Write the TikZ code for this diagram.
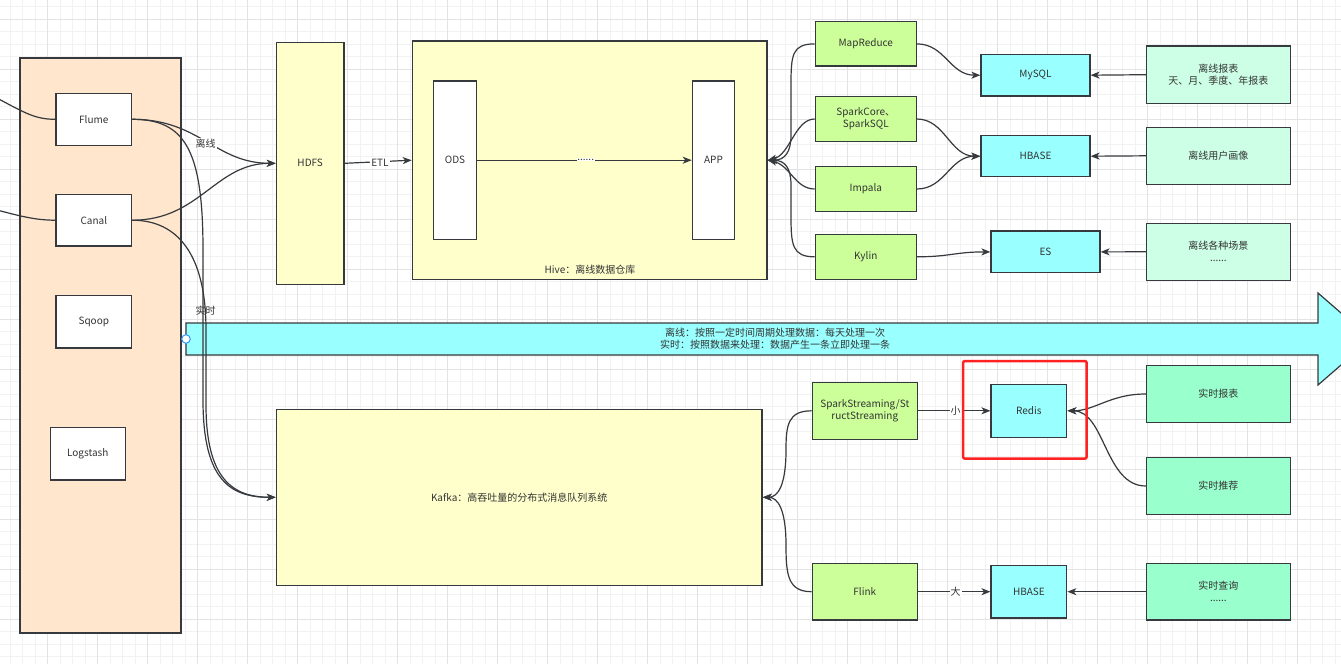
\documentclass[tikz,border=0pt]{standalone}
\usepackage{fontspec}
\setmainfont{Noto Sans CJK SC}
\usetikzlibrary{arrows.meta}
\definecolor{ink}{HTML}{333333}
\definecolor{edgec}{HTML}{36393D}
\definecolor{orangebg}{HTML}{FFE6CC}
\definecolor{yellowbg}{HTML}{FFFFCC}
\definecolor{greenbg}{HTML}{CCFF99}
\definecolor{cyanbg}{HTML}{99FFFF}
\definecolor{mintbg}{HTML}{CCFFE6}
\definecolor{seabg}{HTML}{99FFCC}
\definecolor{gridmin}{HTML}{F2F2F2}
\definecolor{gridmaj}{HTML}{E3E3E3}
\definecolor{handle}{HTML}{3399FF}
\definecolor{redmark}{HTML}{FF2222}
\tikzset{
  box/.style={draw=edgec, line width=1.2pt, text=ink, inner sep=0pt, align=center},
  lbl/.style={fill=white, inner sep=1pt, text=ink},
  plainlbl/.style={inner sep=1pt, text=ink},
  conn/.style={draw=edgec, line width=1.2pt},
  arrowed/.style={conn, -{Stealth[length=9pt,width=7pt,inset=2.5pt]}},
  gridminor/.style={draw=gridmin, line width=0.8pt},
  gridmajor/.style={draw=gridmaj, line width=0.9pt},
}
\begin{document}
\begin{tikzpicture}[x=1pt,y=-1pt,font=\fontsize{10}{12}\selectfont]
\useasboundingbox (0,0) rectangle (1341,664);
\fill[white] (0,0) rectangle (1341,664);
% grid
\foreach \i in {0,...,108} \draw[gridminor] ({-2.3+12.5*\i},0) -- ({-2.3+12.5*\i},664);
\foreach \i in {0,...,54} \draw[gridminor] (0,{-5.7+12.5*\i}) -- (1341,{-5.7+12.5*\i});
\foreach \i in {0,...,27} \draw[gridmajor] ({-2.3+50*\i},0) -- ({-2.3+50*\i},664);
\foreach \i in {0,...,14} \draw[gridmajor] (0,{-30.7+50*\i}) -- (1341,{-30.7+50*\i});

% source container
\node[box, fill=orangebg, minimum width=161, minimum height=575] (src) at (100.5,345.5) {};
\node[box, fill=white, minimum width=75.7, minimum height=52] (flume) at (93.8,119.3) {Flume};
\node[box, fill=white, minimum width=75.7, minimum height=51.7] (canal) at (93.8,220.2) {Canal};
\node[box, fill=white, minimum width=75.7, minimum height=52.7] (sqoop) at (93.8,321.7) {Sqoop};
\node[box, fill=white, minimum width=75, minimum height=52.7] (logstash) at (87.8,453.7) {Logstash};

% HDFS and Hive
\node[box, fill=yellowbg, minimum width=67.7, minimum height=242] (hdfs) at (310.2,163.3) {HDFS};
\node[box, fill=yellowbg, minimum width=354.7, minimum height=238.3] (hive) at (589.7,160.2) {};
\node[plainlbl] (hivelbl) at (590,270) {Hive：离线数据仓库};
\node[box, fill=white, minimum width=43.4, minimum height=158.3] (ods) at (455,160.2) {ODS};
\node[box, fill=white, minimum width=42.4, minimum height=158.3] (app) at (713.5,160.2) {APP};

% Kafka
\node[box, fill=yellowbg, minimum width=485.7, minimum height=176] (kafka) at (519.2,497.3) {Kafka：高吞吐量的分布式消息队列系统};

% band arrow
\draw[draw=edgec, line width=1.2pt, fill=cyanbg] (186,323) -- (1318,323) -- (1318,293) -- (1371,339) -- (1318,385) -- (1318,355) -- (186,355) -- cycle;
\node[plainlbl, align=center, font=\fontsize{10}{11.7}\selectfont] (band) at (775,339) {离线：按照一定时间周期处理数据：每天处理一次\\实时：按照数据来处理：数据产生一条立即处理一条};
\draw[draw=handle, fill=white, line width=1pt] (186,339) circle (4.3);

% offline compute
\node[box, fill=greenbg, minimum width=101, minimum height=44.3] (mr) at (865.8,43.9) {MapReduce};
\node[box, fill=greenbg, minimum width=101, minimum height=44.6] (sc) at (865.8,119) {SparkCore、\\SparkSQL};
\node[box, fill=greenbg, minimum width=101, minimum height=44.6] (impala) at (865.8,189) {Impala};
\node[box, fill=greenbg, minimum width=101, minimum height=45] (kylin) at (865.8,256.8) {Kylin};

% offline storage
\node[box, fill=cyanbg, minimum width=109, minimum height=41.7] (mysql) at (1035.5,75.2) {MySQL};
\node[box, fill=cyanbg, minimum width=109, minimum height=41] (hbaseA) at (1035.5,156.2) {HBASE};
\node[box, fill=cyanbg, minimum width=109, minimum height=41.7] (es) at (1045.5,251.9) {ES};

% offline apps
\node[box, fill=mintbg, minimum width=144.1, minimum height=57.3] (r1) at (1218.4,74.7) {离线报表\\天、月、季度、年报表};
\node[box, fill=mintbg, minimum width=144.1, minimum height=57] (r2) at (1218.4,155.8) {离线用户画像};
\node[box, fill=mintbg, minimum width=144.1, minimum height=57] (r3) at (1218.4,251.8) {离线各种场景\\......};

% realtime compute
\node[box, fill=greenbg, minimum width=105.2, minimum height=57] (ss) at (864.8,410.8) {SparkStreaming/St\\ructStreaming};
\node[box, fill=greenbg, minimum width=105.2, minimum height=56.7] (flink) at (864.8,591.7) {Flink};

% realtime storage
\node[box, fill=cyanbg, minimum width=75.7, minimum height=53] (redis) at (1028.9,410.8) {Redis};
\node[box, fill=cyanbg, minimum width=75.7, minimum height=52.7] (hbaseB) at (1028.9,591.7) {HBASE};

% realtime apps
\node[box, fill=seabg, minimum width=144.1, minimum height=56.6] (t1) at (1218.4,394) {实时报表};
\node[box, fill=seabg, minimum width=144.1, minimum height=57.4] (t2) at (1218.4,486) {实时推荐};
\node[box, fill=seabg, minimum width=144.1, minimum height=56.7] (t3) at (1218.4,591.7) {实时查询\\......};

% incoming lines at the left edge
\coordinate (inF) at (-5,97);
\coordinate (inC) at (-5,209.5);
\draw[conn] (inF) .. controls (25,113) and (35,119.3) .. (flume.west);
\draw[conn] (inC) .. controls (20,216) and (35,220.2) .. (canal.west);

% sources to HDFS / Kafka
\draw[arrowed] (flume.east) .. controls (200,119.3) and (215,163.3) .. (hdfs.west);
\draw[arrowed] (canal.east) .. controls (200,220.2) and (215,163.3) .. (hdfs.west);
\draw[arrowed] (flume.east) .. controls (185,119.3) and (203,150) .. (203,250) -- (203,400) .. controls (203,480) and (230,497.3) .. (kafka.west);
\draw[arrowed] (canal.east) .. controls (178,220.2) and (206,255) .. (206,330) -- (206,405) .. controls (206,478) and (232,497.3) .. (kafka.west);
\node[lbl] (lx) at (205.5,143.3) {离线};
\node[plainlbl] (ls) at (205.5,310.5) {实时};

% HDFS to Hive, ODS to APP
\draw[arrowed] (hdfs.east) -- (hive.west);
\node[lbl] (etl) at (380,162.5) {ETL};
\draw[arrowed] (ods.east) -- (app.west);
\node[lbl, inner sep=0.5pt] (dots) at (585.7,159.5) {......};

% compute to Hive
\draw[arrowed] (mr.west) .. controls (792,43.9) and (791,55) .. (791,85) -- (791,135) .. controls (791,152) and (785,160.2) .. (hive.east);
\draw[arrowed] (sc.west) .. controls (795,119) and (790,155) .. (hive.east);
\draw[arrowed] (impala.west) .. controls (795,189) and (790,165) .. (hive.east);
\draw[arrowed] (kylin.west) .. controls (792,256.8) and (791,245) .. (791,215) -- (791,185) .. controls (791,168) and (785,160.2) .. (hive.east);

% compute to storage
\draw[arrowed] (mr.east) .. controls (945,43.9) and (950,75.2) .. (mysql.west);
\draw[arrowed] (sc.east) .. controls (945,119) and (950,156.2) .. (hbaseA.west);
\draw[arrowed] (impala.east) .. controls (945,189) and (950,156.2) .. (hbaseA.west);
\draw[arrowed] (kylin.east) .. controls (950,256.8) and (955,251.9) .. (es.west);

% apps to storage
\draw[arrowed] (r1.west) -- (mysql.east);
\draw[arrowed] (r2.west) -- (hbaseA.east);
\draw[arrowed] (r3.west) -- (es.east);

% realtime compute to Kafka
\draw[arrowed] (ss.west) .. controls (788,410.8) and (786,425) .. (786,450) .. controls (786,485) and (778,497.3) .. (kafka.east);
\draw[arrowed] (flink.west) .. controls (788,591.7) and (786,575) .. (786,545) .. controls (786,510) and (778,497.3) .. (kafka.east);

% realtime compute to storage
\draw[arrowed] (ss.east) -- (redis.west);
\node[lbl] (small) at (955.5,411) {小};
\draw[arrowed] (flink.east) -- (hbaseB.west);
\node[lbl] (big) at (955.5,591.7) {大};

% realtime apps to storage
\draw[arrowed] (t1.west) .. controls (1110,394) and (1095,410.8) .. (redis.east);
\draw[arrowed] (t2.west) .. controls (1105,486) and (1105,410.8) .. (redis.east);
\draw[arrowed] (t3.west) -- (hbaseB.east);

% red highlight
\draw[draw=redmark, line width=2.5pt, rounded corners=2pt] (963,361) rectangle (1086.7,458.7);
\end{tikzpicture}
\end{document}
